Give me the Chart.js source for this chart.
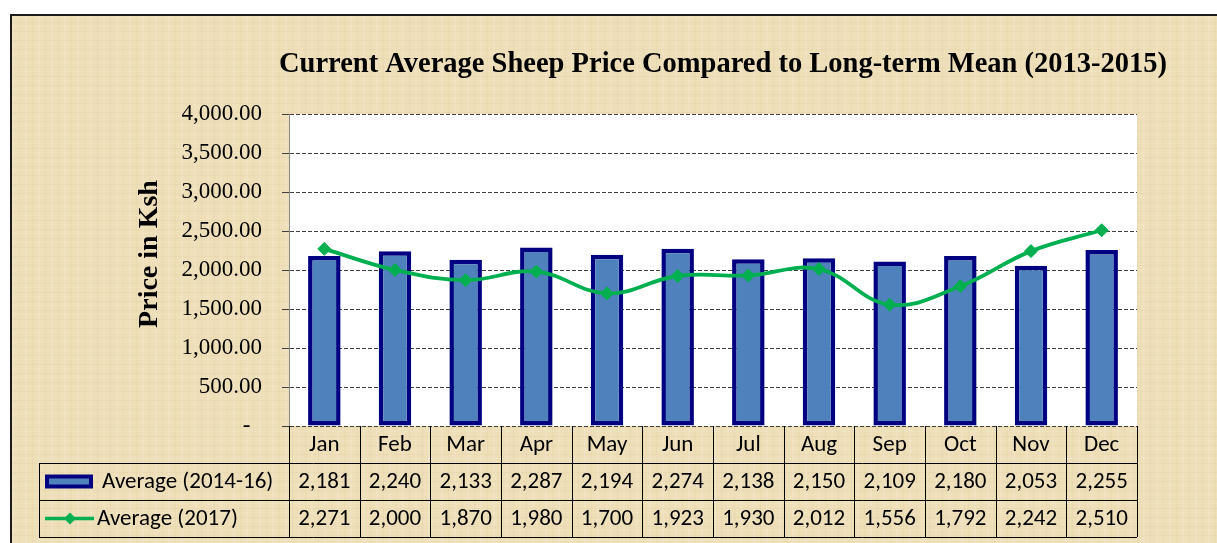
<!DOCTYPE html>
<html>
<head>
<meta charset="utf-8">
<script src="https://cdn.jsdelivr.net/npm/chart.js@4.4.1/dist/chart.umd.min.js"></script>
<style>
  html, body { margin: 0; padding: 0; background: #ffffff; width: 1217px; height: 543px; overflow: hidden; }
  #frame {
    position: absolute; left: 10px; top: 14px; width: 1230px; height: 560px;
    border-left: 2px solid #1a1a1a; border-top: 2px solid #1a1a1a;
    background-color: #eedfb9;
    background-image:
      repeating-linear-gradient(90deg, rgba(255,255,255,0.10) 0 2px, rgba(0,0,0,0) 2px 7px, rgba(150,120,70,0.05) 7px 8px, rgba(0,0,0,0) 8px 13px),
      repeating-linear-gradient(0deg, rgba(255,255,255,0.08) 0 1px, rgba(0,0,0,0) 1px 4px, rgba(150,120,70,0.05) 4px 5px, rgba(0,0,0,0) 5px 9px);
  }
  #c { position: absolute; left: 0; top: 0; }
</style>
</head>
<body>
<div id="frame"></div>
<canvas id="c" width="1217" height="543"></canvas>
<script>
const categories = ['Jan','Feb','Mar','Apr','May','Jun','Jul','Aug','Sep','Oct','Nov','Dec'];
const seriesNames = ['Average (2014-16)', 'Average (2017)'];
const avg2014_16 = [2181, 2240, 2133, 2287, 2194, 2274, 2138, 2150, 2109, 2180, 2053, 2255];
const avg2017 = [2271, 2000, 1870, 1980, 1700, 1923, 1930, 2012, 1556, 1792, 2242, 2510];
const yAxis = { min: 0, max: 4000, step: 500 };
const chartTitle = 'Current Average Sheep Price Compared to Long-term Mean (2013-2015)';
const yTitle = 'Price in Ksh';

const BAR_FILL = '#4f81bd', BAR_EDGE = '#000080', LINE_COL = '#00b050';
const SERIF = '"Liberation Serif", "Times New Roman", serif';
const SANS = 'Carlito, Calibri, Lato, sans-serif';

const fmtInt = v => v.toLocaleString('en-US');
const fmtTick = v => v === 0 ? '-  ' : v.toLocaleString('en-US', {minimumFractionDigits: 2, maximumFractionDigits: 2});

const decorPlugin = {
  id: 'decor',
  beforeDraw(chart) {
    const {ctx, chartArea: a} = chart;
    ctx.save();
    ctx.fillStyle = '#ffffff';
    ctx.fillRect(a.left, a.top, a.right - a.left, a.bottom - a.top);
    ctx.restore();
  },
  afterDraw(chart) {
    const {ctx, chartArea: a} = chart;
    const xs = chart.scales.x;
    const n = categories.length;
    const cw = (a.right - a.left) / n;
    const top = a.bottom;
    const rowH = (xs.bottom - top) / 3;
    const legL = 39;
    ctx.save();
    // title
    ctx.fillStyle = '#000';
    ctx.font = 'bold 28.5px ' + SERIF;
    ctx.textAlign = 'center';
    ctx.textBaseline = 'middle';
    ctx.fillText(chartTitle, 723, 65);
    // y title
    ctx.save();
    ctx.translate(150, 254);
    ctx.rotate(-Math.PI / 2);
    ctx.font = 'bold 28px ' + SERIF;
    ctx.fillText(yTitle, 0, 0);
    ctx.restore();

    // table lines
    ctx.strokeStyle = '#000';
    ctx.lineWidth = 1;
    ctx.beginPath();
    for (let r = 1; r <= 3; r++) {
      const y = Math.round(top + r * rowH) + 0.5;
      ctx.moveTo(legL, y); ctx.lineTo(a.right, y);
    }
    const x0 = Math.round(a.left) + 0.5;
    ctx.moveTo(x0, top); ctx.lineTo(x0, top + 3 * rowH);
    for (let i = 0; i < n; i++) {
      const xb = Math.round(xs.getPixelForValue(i) + cw / 2) + 0.5;
      ctx.moveTo(xb, top); ctx.lineTo(xb, top + 3 * rowH);
    }
    ctx.moveTo(legL + 0.5, top + rowH); ctx.lineTo(legL + 0.5, top + 3 * rowH);
    ctx.stroke();

    // text
    ctx.font = '23px ' + SANS;
    ctx.fillStyle = '#000';
    ctx.textAlign = 'center';
    for (let i = 0; i < n; i++) {
      const cx = xs.getPixelForValue(i);
      ctx.fillText(categories[i], cx, top + rowH * 0.5 + 1);
      ctx.fillText(fmtInt(avg2014_16[i]), cx, top + rowH * 1.5 + 1);
      ctx.fillText(fmtInt(avg2017[i]), cx, top + rowH * 2.5 + 1);
    }
    // legend keys
    const y1 = top + rowH * 1.5, y2 = top + rowH * 2.5;
    ctx.fillStyle = BAR_FILL;
    ctx.strokeStyle = BAR_EDGE;
    ctx.lineWidth = 4;
    ctx.fillRect(47, y1 - 5, 44, 10);
    ctx.strokeRect(47, y1 - 5, 44, 10);
    ctx.strokeStyle = LINE_COL;
    ctx.lineWidth = 3.5;
    ctx.beginPath(); ctx.moveTo(45, y2); ctx.lineTo(94, y2); ctx.stroke();
    ctx.fillStyle = LINE_COL;
    ctx.beginPath();
    ctx.moveTo(70, y2 - 6); ctx.lineTo(76, y2); ctx.lineTo(70, y2 + 6); ctx.lineTo(64, y2); ctx.closePath(); ctx.fill();
    ctx.fillStyle = '#000';
    ctx.textAlign = 'left';
    ctx.fillText(seriesNames[0], 102, y1 + 1);
    ctx.fillText(seriesNames[1], 97, y2 + 1);
    ctx.restore();
  }
};

new Chart(document.getElementById('c'), {
  data: {
    labels: categories,
    datasets: [
      {
        type: 'line', label: seriesNames[1], data: avg2017, order: 0,
        borderColor: LINE_COL, backgroundColor: LINE_COL, borderWidth: 3.8,
        tension: 0.4, pointStyle: 'rectRot', pointRadius: 6.5,
        pointBackgroundColor: LINE_COL, pointBorderColor: LINE_COL, pointBorderWidth: 1
      },
      {
        type: 'bar', label: seriesNames[0], data: avg2014_16, order: 1,
        backgroundColor: BAR_FILL, borderColor: BAR_EDGE, borderWidth: 4.5,
        borderSkipped: false, categoryPercentage: 1, barPercentage: 0.46
      }
    ]
  },
  options: {
    responsive: false,
    animation: false,
    layout: { padding: { left: 0, right: 80, top: 114, bottom: 6 } },
    plugins: { legend: { display: false }, title: { display: false }, tooltip: { enabled: false } },
    scales: {
      x: {
        type: 'category',
        ticks: { display: false },
        grid: { display: false },
        border: { display: false },
        afterFit(s) { s.height = 111; }
      },
      y: {
        min: yAxis.min, max: yAxis.max,
        ticks: {
          stepSize: yAxis.step, padding: 20, color: '#000',
          font: { family: SERIF, size: 23 },
          callback: v => fmtTick(v)
        },
        grid: { color: '#404040', lineWidth: 1, tickLength: 7 },
        border: { display: true, color: '#8a8a8a', width: 1, dash: [4, 2] },
        afterFit(s) { s.width = 289; }
      }
    }
  },
  plugins: [decorPlugin]
});
</script>
</body>
</html>
